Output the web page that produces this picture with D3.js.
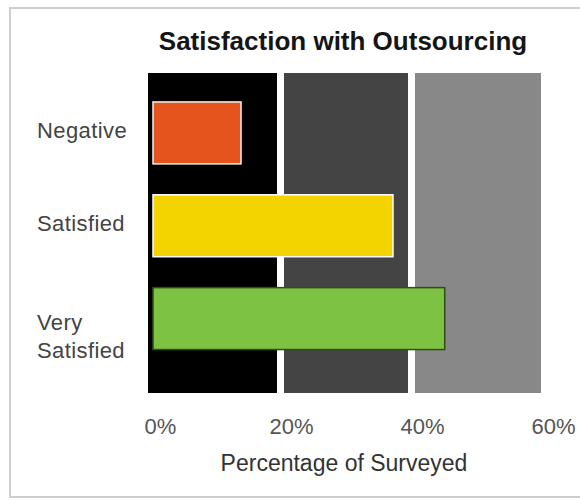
<!DOCTYPE html>
<html>
<head>
<meta charset="utf-8">
<script src="https://cdn.jsdelivr.net/npm/d3@7"></script>
<style>
  body { margin: 0; background: #fff; overflow: hidden; }
  svg { display: block; }
  text { font-family: "Liberation Sans", Arial, sans-serif; }
</style>
</head>
<body>
<div id="chart"></div>
<script>
// data
var categories = ["Negative", "Satisfied", "Very Satisfied"];
var values = [14.2, 37.4, 45.3];
var barColors = ["#e5541c", "#f3d400", "#7dc242"];
var barStrokes = ["#f2f2f2", "#ffffff", "#2f4d14"];
var bandStops = [0, 20, 40, 60];
var bandColors = ["#000000", "#444444", "#888888"];
var tickValues = [0, 20, 40, 60];

var width = 580,
    height = 500;

var svg = d3.select("#chart")
    .append("svg")
    .attr("width", width)
    .attr("height", height);

// light frame around the whole graphic (right side runs off the page)
svg.append("rect")
    .attr("x", 10)
    .attr("y", 8)
    .attr("width", 620)
    .attr("height", 489)
    .attr("fill", "none")
    .attr("stroke", "#cfcfcf")
    .attr("stroke-width", 2);

var x = d3.scaleLinear()
    .domain([0, 60])
    .range([148, 541]);

var y = d3.scaleBand()
    .domain(categories)
    .range([73, 393])
    .paddingInner(0.333)
    .paddingOuter(0.39)
    .align(0.4);

// title
svg.append("text")
    .attr("x", 343)
    .attr("y", 50)
    .attr("text-anchor", "middle")
    .style("font-size", "26px")
    .style("font-weight", "bold")
    .style("fill", "#151515")
    .text("Satisfaction with Outsourcing");

// background bands (0-20, 20-40, 40-60) with white gaps between
var bands = d3.range(bandColors.length).map(function (i) {
    return { lo: bandStops[i], hi: bandStops[i + 1], color: bandColors[i] };
});

svg.selectAll("rect.band")
    .data(bands)
    .enter()
    .append("rect")
    .attr("class", "band")
    .attr("x", function (d) { return x(d.lo) + (d.lo > 0 ? 5 : 0); })
    .attr("width", function (d) {
        return x(d.hi) - x(d.lo) - (d.lo > 0 ? 5 : 0) - (d.hi < 60 ? 2 : 0);
    })
    .attr("y", 73)
    .attr("height", 320)
    .attr("fill", function (d) { return d.color; });

// bars, slightly inset from the zero line
var inset = 5;
svg.selectAll("rect.bar")
    .data(categories)
    .enter()
    .append("rect")
    .attr("class", "bar")
    .attr("x", x(0) + inset)
    .attr("y", function (d) { return y(d); })
    .attr("width", function (d, i) { return x(values[i]) - x(0) - inset; })
    .attr("height", y.bandwidth())
    .attr("fill", function (d, i) { return barColors[i]; })
    .attr("stroke", function (d, i) { return barStrokes[i]; })
    .attr("stroke-width", 1.5);

// category labels, left aligned, wrapped onto two lines where needed
svg.selectAll("text.cat")
    .data(categories)
    .enter()
    .append("text")
    .attr("class", "cat")
    .attr("x", 37)
    .attr("y", function (d) {
        var words = d.split(" ");
        return y(d) + y.bandwidth() / 2 + (words.length > 1 ? 11 : 5);
    })
    .style("font-size", "22px")
    .style("letter-spacing", "0.4px")
    .style("fill", "#444")
    .each(function (d) {
        var words = d.split(" ");
        var t = d3.select(this);
        words.forEach(function (w, k) {
            t.append("tspan")
                .attr("x", 37)
                .attr("dy", k == 0 ? 0 : 28)
                .text(w);
        });
    });

// x axis, only the labels are shown
var xAxis = d3.axisBottom(x)
    .tickValues(tickValues)
    .tickFormat(function (d) { return d + "%"; })
    .tickSize(0);

var gx = svg.append("g")
    .attr("transform", "translate(0,415)")
    .call(xAxis);
gx.select(".domain").remove();
gx.selectAll("text")
    .attr("dx", 12)
    .attr("dy", "0.71em")
    .style("font-family", "'Liberation Sans', Arial, sans-serif")
    .style("font-size", "22px")
    .style("fill", "#555");

// x axis title
svg.append("text")
    .attr("x", 344)
    .attr("y", 471)
    .attr("text-anchor", "middle")
    .style("font-size", "23px")
    .style("fill", "#333")
    .text("Percentage of Surveyed");
</script>
</body>
</html>
